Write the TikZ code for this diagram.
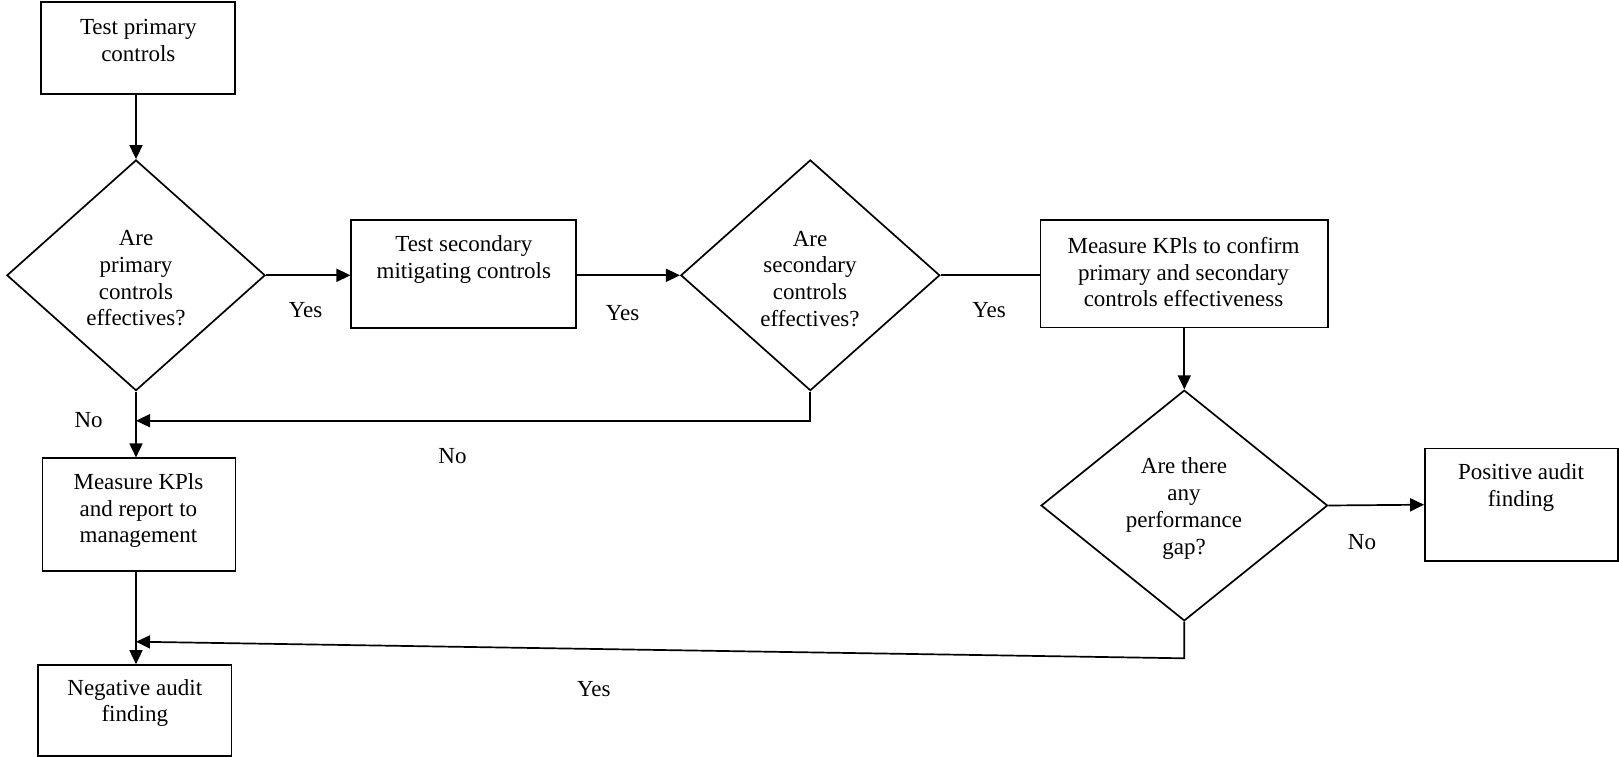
\documentclass[tikz,border=0pt]{standalone}
\usepackage{fontspec}
\setmainfont{Liberation Serif}
\usetikzlibrary{shapes.geometric,arrows.meta}
\begin{document}
\begin{tikzpicture}[x=1pt,y=-1pt,
  every node/.style={font=\fontsize{23}{26.7}\selectfont},
  box/.style={draw,line width=1.7pt,inner sep=0pt},
  dia/.style={draw,diamond,line width=1.7pt,inner sep=0pt},
  txt/.style={align=center,inner sep=0pt},
  lbl/.style={inner sep=0pt},
  conn/.style={line width=1.7pt},
  arr/.style={conn,-{Triangle[length=14pt,width=13pt]}}]
\useasboundingbox (0,0) rectangle (1619,757);
% boxes
\node[box,minimum width=194pt,minimum height=91.7pt] (b1) at (138.3,48.2) {};
\node[box,minimum width=225pt,minimum height=107.7pt] (b2) at (463.8,273.8) {};
\node[box,minimum width=287.5pt,minimum height=107.3pt] (b3) at (1184.3,273.7) {};
\node[box,minimum width=192.8pt,minimum height=112.7pt] (b4) at (1521.4,504.7) {};
\node[box,minimum width=193pt,minimum height=112.4pt] (b5) at (138.9,514.5) {};
\node[box,minimum width=193.3pt,minimum height=91pt] (b6) at (134.7,710.5) {};
% diamonds
\node[dia,minimum width=258.3pt,minimum height=230.7pt] (d1) at (136,275.3) {};
\node[dia,minimum width=259pt,minimum height=230.7pt] (d2) at (810.3,275.3) {};
\node[dia,minimum width=286.5pt,minimum height=230.7pt] (d3) at (1184.3,505.5) {};
% texts
\node[txt] (t1) at (138.3,40.8) {Test primary\\controls};
\node[txt] (t2) at (463.8,259.7) {Test secondary\\mitigating controls};
\node[txt] (t3) at (1183.5,272.2) {Measure KPls to confirm\\primary and secondary\\controls effectiveness};
\node[txt] (t4) at (1521,487.2) {Positive audit\\finding};
\node[txt] (t5) at (138.4,510.5) {Measure KPls\\and report to\\management};
\node[txt] (t6) at (134.8,703) {Negative audit\\finding};
\node[txt] (q1) at (136,278.5) {Are\\primary\\controls\\effectives?};
\node[txt] (q2) at (810,278.8) {Are\\secondary\\controls\\effectives?};
\node[txt] (q3) at (1184,508.5) {Are there\\any\\performance\\gap?};
% helper coordinates
\coordinate (c1) at (136,420.7);
\coordinate (c2) at (136,641.7);
\coordinate (c3) at (1184.3,658.3);
% connectors
\draw[arr] (d1.north |- b1.south) -- (d1.north);
\draw[arr] (d1.east) -- (d1.east -| b2.west);
\draw[arr] (b2.east |- d2.west) -- (d2.west);
\draw[conn] (d2.east) -- (d2.east -| b3.west);
\draw[arr] (b3.south) -- (d3.north);
\draw[arr] (d3.east) -- (b4.west);
\draw[arr] (d1.south) -- (d1.south |- b5.north);
\draw[arr] (d2.south) |- (c1);
\draw[arr] (b5.south -| d1.south) -- (b6.north -| d1.south);
\draw[arr] (d3.south) -- (c3) -- (c2);
% labels
\node[lbl] (y1) at (305.6,310.3) {Yes};
\node[lbl] (y2) at (622.6,313.3) {Yes};
\node[lbl] (y3) at (989,310.5) {Yes};
\node[lbl] (n3) at (1362,542.5) {No};
\node[lbl] (n1) at (88.6,420.5) {No};
\node[lbl] (n2) at (452.5,456.5) {No};
\node[lbl] (y4) at (593.8,689.5) {Yes};
\end{tikzpicture}
\end{document}
